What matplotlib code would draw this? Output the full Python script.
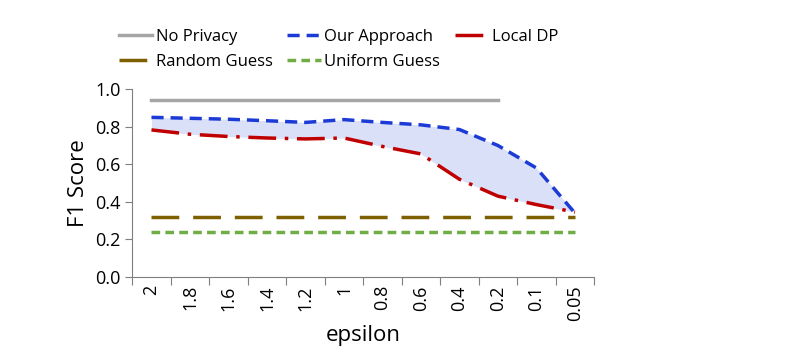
import numpy as np
import matplotlib.pyplot as plt

eps_labels = ['2', '1.8', '1.6', '1.4', '1.2', '1', '0.8', '0.6', '0.4', '0.2', '0.1', '0.05']
no_privacy = [0.94, 0.94, 0.94, 0.94, 0.94, 0.94, 0.94, 0.94, 0.94, 0.94]
our_approach = [0.85, 0.845, 0.84, 0.832, 0.823, 0.838, 0.823, 0.81, 0.785, 0.70, 0.58, 0.34]
local_dp = [0.783, 0.76, 0.748, 0.74, 0.735, 0.74, 0.695, 0.655, 0.52, 0.43, 0.385, 0.345]
random_guess = [0.32] * 12
uniform_guess = [0.24] * 12

plt.rcParams['font.family'] = ['Open Sans', 'DejaVu Sans']

fig = plt.figure(figsize=(7.87, 3.54), dpi=100)
ax = fig.add_axes([0.168, 0.218, 0.587, 0.53])

x = np.arange(len(eps_labels)) + 0.5
xp = x[:len(no_privacy)]

ax.fill_between(x, local_dp, our_approach, color='#dae0f8', lw=0)
l_np, = ax.plot(xp, no_privacy, color='#a6a6a6', lw=2.5, label='No Privacy')
l_our, = ax.plot(x, our_approach, color='#1c3bd6', lw=2.5, ls=(0, (3.5, 2)), label='Our Approach')
l_ldp, = ax.plot(x, local_dp, color='#c00000', lw=2.5, ls=(0, (8, 2.5, 1, 2.5)), label='Local DP')
l_rg, = ax.plot(x, random_guess, color='#7f6000', lw=2.5, ls=(0, (8, 4)), label='Random Guess')
l_ug, = ax.plot(x, uniform_guess, color='#70ad47', lw=2.5, ls=(0, (2.5, 1.5)), label='Uniform Guess')

ax.set_xlim(0, len(eps_labels))
ax.set_ylim(0, 1.0)
ax.set_yticks(np.arange(0, 1.01, 0.2))
ax.set_yticklabels(['%.1f' % v for v in np.arange(0, 1.01, 0.2)], fontsize=13)
ax.set_xticks(np.arange(0, len(eps_labels) + 1))
ax.set_xticklabels([])
ax.set_xticks(x, minor=True)
ax.set_xticklabels(eps_labels, minor=True, rotation=90, fontsize=13)
ax.tick_params(axis='x', which='major', direction='out', length=6, color='#7f7f7f')
ax.tick_params(axis='x', which='minor', length=0, pad=6)
ax.tick_params(axis='y', direction='out', length=5, color='#7f7f7f')

for s in ['top', 'right']:
    ax.spines[s].set_visible(False)
for s in ['left', 'bottom']:
    ax.spines[s].set_color('#7f7f7f')

ax.set_ylabel('F1 Score', fontsize=16)
ax.set_xlabel('epsilon', fontsize=16, labelpad=3)

handles = [l_np, l_rg, l_our, l_ug, l_ldp]
fig.legend(handles, [h.get_label() for h in handles], ncol=3, frameon=False,
           loc='upper left', bbox_to_anchor=(0.132, 0.96), fontsize=12,
           handlelength=2.0, handletextpad=0.2, columnspacing=0.9, labelspacing=0.55)

fig.savefig('out.png', dpi=100)
